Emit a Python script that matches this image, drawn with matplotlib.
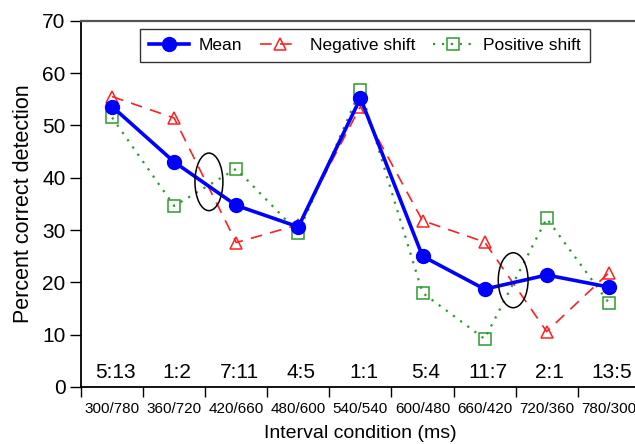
import matplotlib
matplotlib.use("Agg")
import matplotlib.pyplot as plt
from matplotlib.patches import Ellipse

plt.rcParams['font.family'] = ['Liberation Sans', 'DejaVu Sans']

conditions = ["300/780", "360/720", "420/660", "480/600", "540/540",
              "600/480", "660/420", "720/360", "780/300"]
ratios = ["5:13", "1:2", "7:11", "4:5", "1:1", "5:4", "11:7", "2:1", "13:5"]
mean = [53.6, 43.0, 34.7, 30.6, 55.2, 25.0, 18.7, 21.4, 19.1]
negative = [55.5, 51.4, 27.6, 31.0, 53.6, 31.8, 27.7, 10.6, 21.8]
positive = [51.5, 34.6, 41.7, 29.5, 56.8, 18.0, 9.2, 32.2, 16.1]

# ellipses marking the crossing points (x center, y center, width, height)
ellipses = [(1.56, 39.2, 0.45, 11.0), (6.46, 20.4, 0.48, 10.5)]

fig = plt.figure(figsize=(6.35, 4.44), dpi=100)
ax = fig.add_axes([0.1276, 0.1284, 0.88, 0.825])

x = list(range(len(conditions)))
ax.plot(x, mean, color="#0000ff", lw=2.6, marker="o", ms=10, label="Mean", zorder=4)
ax.plot(x, negative, color="#ff2020", lw=1.2, ls=(0, (7, 5)), marker="^", ms=9,
        mfc="none", mec="#ff2020", mew=1.1, label="Negative shift", zorder=3)
ax.plot(x, positive, color="#2e9a2e", lw=1.6, ls=(0, (1, 3)), marker="s", ms=9,
        mfc="none", mec="#2e9a2e", mew=1.1, label="Positive shift", zorder=3)

for cx, cy, w, h in ellipses:
    ax.add_patch(Ellipse((cx, cy), w, h, fill=False, ec="black", lw=1.1, zorder=5))

for i, r in enumerate(ratios):
    ax.text(i + 0.05, 1.0, r, ha="center", va="bottom", fontsize=15)

ax.set_xlim(-0.5, 8.5)
ax.set_ylim(0, 70)
ax.set_yticks(range(0, 71, 10))
ax.set_xticks(x)
ax.set_xticklabels(conditions, fontsize=11)
ax.set_xticks([i - 0.5 for i in range(len(conditions) + 1)], minor=True)
ax.tick_params(axis="x", which="major", length=0, pad=11)
ax.tick_params(axis="x", which="minor", length=7, width=1, direction="out")
ax.tick_params(axis="y", labelsize=15, length=8, width=1, pad=3)

ax.spines["left"].set_linewidth(1.3)
ax.spines["bottom"].set_linewidth(1.3)
ax.spines["top"].set_color("#555555")
ax.spines["top"].set_linewidth(1.6)
ax.spines["right"].set_visible(False)

ax.set_xlabel("Interval condition (ms)", fontsize=14, labelpad=6)
ax.set_ylabel("Percent correct detection", fontsize=15.5, labelpad=6)

leg = ax.legend(loc="upper center", ncol=3, bbox_to_anchor=(0.508, 1.0), fontsize=12.5,
                frameon=True, fancybox=False, edgecolor="black", handlelength=2.3,
                columnspacing=1.0, handletextpad=0.6, borderpad=0.5)
leg.get_frame().set_linewidth(1.0)

fig.savefig("out.png", dpi=100)
